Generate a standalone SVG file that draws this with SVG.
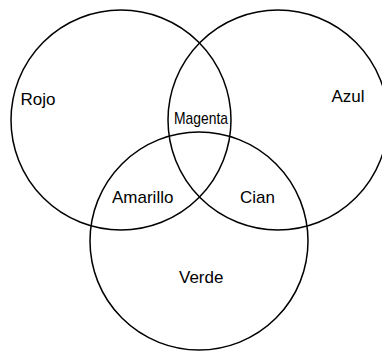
<svg xmlns="http://www.w3.org/2000/svg" width="382" height="351" viewBox="0 0 382 351">
<style>
.c{fill:none;stroke:#000;stroke-width:1.5}
.t{font-family:"Liberation Sans",Arial,sans-serif;font-size:17px;fill:#000}
</style>
<rect width="382" height="351" fill="#fff"/>
<g id="rojo"><circle class="c" cx="121" cy="120" r="110"/><text class="t" x="20.5" y="105">Rojo</text></g>
<g id="azul"><circle class="c" cx="278" cy="120" r="110"/><text class="t" x="331.5" y="102">Azul</text></g>
<g id="verde"><circle class="c" cx="199" cy="241" r="109"/><text class="t" x="179" y="283">Verde</text></g>
<g id="magenta"><text class="t" x="174" y="124" font-size="15.5" textLength="54" lengthAdjust="spacingAndGlyphs">Magenta</text></g>
<g id="amarillo"><text class="t" x="112" y="203">Amarillo</text></g>
<g id="cian"><text class="t" x="240" y="203">Cian</text></g>
<g id="connectors"></g>
</svg>
